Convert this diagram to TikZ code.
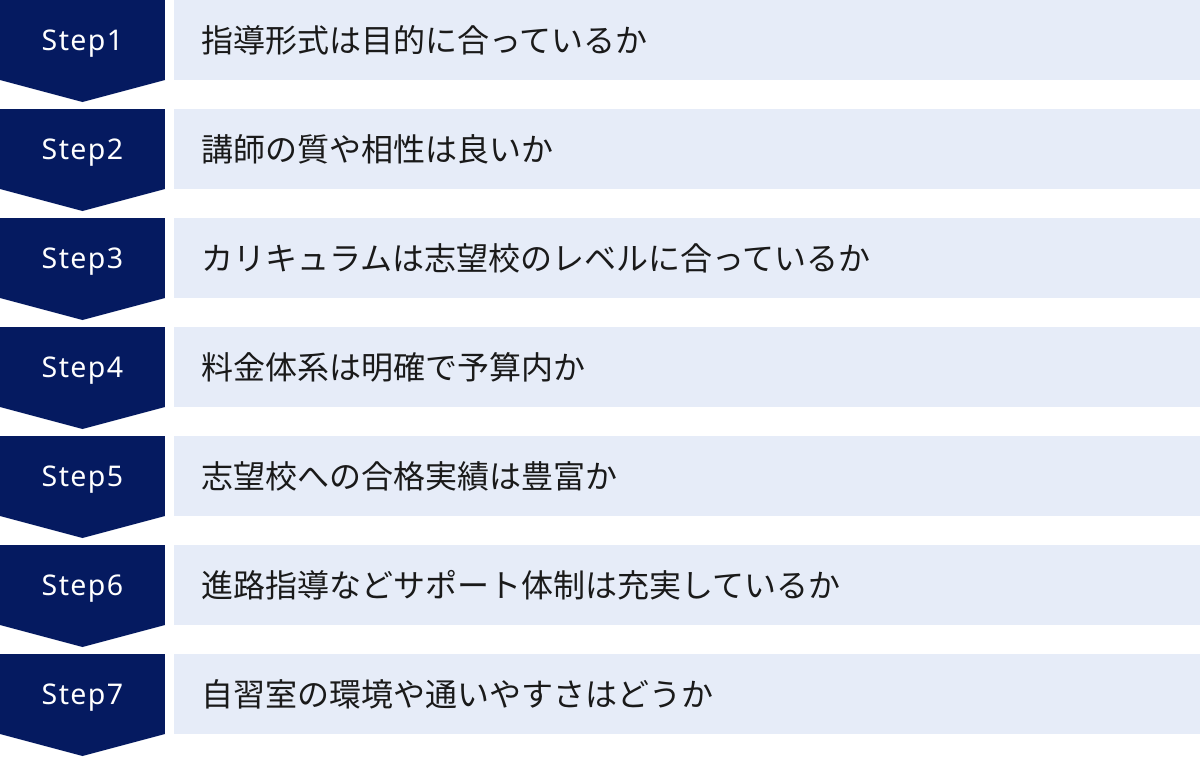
\documentclass[tikz,border=0pt]{standalone}
\usepackage{fontspec}
\newfontfamily\jpfont{Noto Sans CJK JP}
\newfontfamily\stepfont[LetterSpace=5]{Noto Sans}
\usetikzlibrary{positioning,calc}
\definecolor{navy}{HTML}{051A60}
\definecolor{pale}{HTML}{E6ECF8}
\definecolor{ink}{HTML}{1A1A1A}
\tikzset{stepbox/.style={fill=navy, text=white, minimum width=165pt, minimum height=80pt, inner sep=0pt, outer sep=0pt, text depth=0pt, font=\stepfont\fontsize{28.5}{32}\selectfont}}
\tikzset{item/.style={fill=pale, text=ink, minimum height=80pt, text width=972pt, inner xsep=27pt, inner ysep=0pt, outer sep=0pt, align=left, font=\jpfont\fontsize{32}{36}\selectfont}}
\tikzset{chevron/.style={fill=navy}}

\begin{document}
\begin{tikzpicture}[x=1pt, y=1pt]
		\useasboundingbox (0,0) rectangle (1200,-756);

		\node [stepbox, anchor=north west]	(s1) at (0,0) {Step1};
		\node [stepbox, below=29pt of s1]	(s2) {Step2};
		\node [stepbox, below=29pt of s2]	(s3) {Step3};
		\node [stepbox, below=29pt of s3]	(s4) {Step4};
		\node [stepbox, below=29pt of s4]	(s5) {Step5};
		\node [stepbox, below=29pt of s5]	(s6) {Step6};
		\node [stepbox, below=29pt of s6]	(s7) {Step7};

		\node [item, right=9pt of s1]		(t1) {指導形式は目的に合っているか};
		\node [item, right=9pt of s2]		(t2) {講師の質や相性は良いか};
		\node [item, right=9pt of s3]		(t3) {カリキュラムは志望校のレベルに合っているか};
		\node [item, right=9pt of s4]		(t4) {料金体系は明確で予算内か};
		\node [item, right=9pt of s5]		(t5) {志望校への合格実績は豊富か};
		\node [item, right=9pt of s6]		(t6) {進路指導などサポート体制は充実しているか};
		\node [item, right=9pt of s7]		(t7) {自習室の環境や通いやすさはどうか};

		\fill [chevron] (s1.south west) -- (s1.south east) -- ([yshift=-22pt]s1.south) -- cycle;
		\fill [chevron] (s2.south west) -- (s2.south east) -- ([yshift=-22pt]s2.south) -- cycle;
		\fill [chevron] (s3.south west) -- (s3.south east) -- ([yshift=-22pt]s3.south) -- cycle;
		\fill [chevron] (s4.south west) -- (s4.south east) -- ([yshift=-22pt]s4.south) -- cycle;
		\fill [chevron] (s5.south west) -- (s5.south east) -- ([yshift=-22pt]s5.south) -- cycle;
		\fill [chevron] (s6.south west) -- (s6.south east) -- ([yshift=-22pt]s6.south) -- cycle;
		\fill [chevron] (s7.south west) -- (s7.south east) -- ([yshift=-22pt]s7.south) -- cycle;
	\end{tikzpicture}
\end{document}
